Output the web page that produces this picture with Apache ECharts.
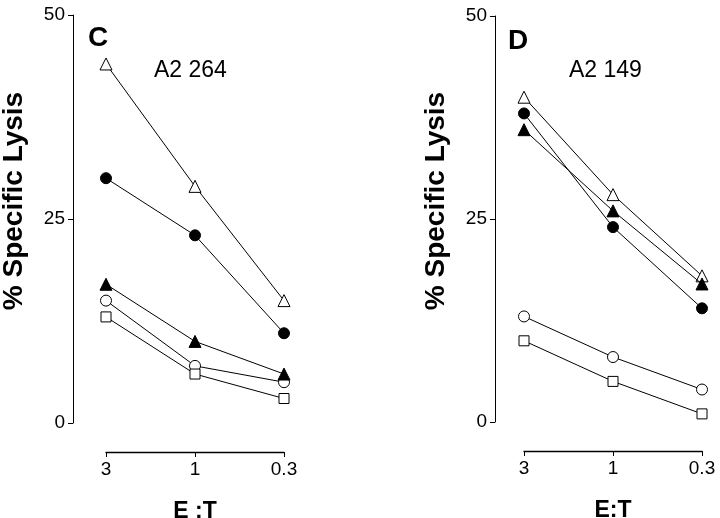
<!DOCTYPE html>
<html>
<head>
<meta charset="utf-8">
<script src="https://cdn.jsdelivr.net/npm/echarts@6/dist/echarts.min.js"></script>
<style>html,body{margin:0;padding:0;background:#fff;}#c{width:720px;height:518px;}</style>
</head>
<body>
<div id="c"></div>
<script>
var categories = ['3', '1', '0.3'];
var yTicks = [0, 25, 50];
// Panel C (A2 264)
var cOpenTriangle = [44, 29, 15];
var cFilledCircle = [30, 23, 11];
var cFilledTriangle = [17, 10, 6];
var cOpenCircle = [15, 7, 5];
var cOpenSquare = [13, 6, 3];
// Panel D (A2 149)
var dOpenTriangle = [40, 28, 18];
var dFilledCircle = [38, 24, 14];
var dFilledTriangle = [36, 26, 17];
var dOpenCircle = [13, 8, 4];
var dOpenSquare = [10, 5, 1];

var FONT = "'Liberation Sans', Arial, Helvetica, sans-serif";
var chart = echarts.init(document.getElementById('c'));

function xAx(gi) {
  return {
    type: 'category', gridIndex: gi, data: categories, boundaryGap: false,
    position: 'bottom', offset: 29,
    axisLine: {show: true, onZero: false, lineStyle: {color: '#000', width: 1.4, type: 'solid'}},
    axisTick: {show: true, length: 5, alignWithLabel: true, lineStyle: {color: '#000'}},
    axisLabel: {color: '#000', fontFamily: FONT, fontSize: 19, margin: 8},
    name: gi === 0 ? 'E :T' : 'E:T', nameLocation: 'middle', nameGap: 48,
    nameTextStyle: {color: '#000', fontFamily: FONT, fontSize: 23, fontWeight: 'bold'}
  };
}
function yAx(gi, off) {
  return {
    type: 'value', gridIndex: gi, min: 0, max: 50, interval: 25,
    position: 'left', offset: off, splitLine: {show: false},
    axisLine: {show: true, onZero: false, lineStyle: {color: '#000', width: 1}},
    axisTick: {show: true, length: 5, lineStyle: {color: '#000'}},
    axisLabel: {color: '#000', fontFamily: FONT, fontSize: 19, margin: 8},
    name: '% Specific Lysis', nameLocation: 'middle', nameRotate: 90, nameGap: 45,
    nameTextStyle: {color: '#000', fontFamily: FONT, fontSize: 28, fontWeight: 'bold', padding: [0, 0, 0, 36]}
  };
}
function ser(gi, data, symbol, filled, size) {
  return {
    type: 'line', xAxisIndex: gi, yAxisIndex: gi, data: data,
    symbol: symbol, symbolSize: size, showSymbol: true,
    lineStyle: {color: '#000', width: 1},
    itemStyle: {color: filled ? '#000' : '#fff', borderColor: '#000', borderWidth: 1},
    emphasis: {disabled: true}, animation: false, z: filled ? 3 : 2
  };
}

chart.setOption({
  backgroundColor: '#fff',
  animation: false,
  grid: [
    {left: 106, right: 436, top: 15, bottom: 95, containLabel: false, outerBoundsMode: 'none'},
    {left: 524, right: 18, top: 16, bottom: 96, containLabel: false, outerBoundsMode: 'none'}
  ],
  xAxis: [xAx(0), xAx(1)],
  yAxis: [yAx(0, 33), yAx(1, 29)],
  graphic: [
    {type: 'text', left: 88, top: 24, style: {text: 'C', font: "bold 28px " + FONT, fill: '#000'}},
    {type: 'text', left: 154, top: 59, style: {text: 'A2 264', font: "23px " + FONT, fill: '#000'}},
    {type: 'text', left: 508, top: 27, style: {text: 'D', font: "bold 28px " + FONT, fill: '#000'}},
    {type: 'text', left: 569, top: 59, style: {text: 'A2 149', font: "23px " + FONT, fill: '#000'}}
  ],
  series: [
    ser(0, cOpenTriangle, 'triangle', false, 12),
    ser(0, cFilledCircle, 'circle', true, 11),
    ser(0, cFilledTriangle, 'triangle', true, 12),
    ser(0, cOpenCircle, 'circle', false, 11),
    ser(0, cOpenSquare, 'rect', false, 10),
    ser(1, dOpenTriangle, 'triangle', false, 12),
    ser(1, dFilledCircle, 'circle', true, 11),
    ser(1, dFilledTriangle, 'triangle', true, 12),
    ser(1, dOpenCircle, 'circle', false, 11),
    ser(1, dOpenSquare, 'rect', false, 10)
  ]
});
</script>
</body>
</html>
